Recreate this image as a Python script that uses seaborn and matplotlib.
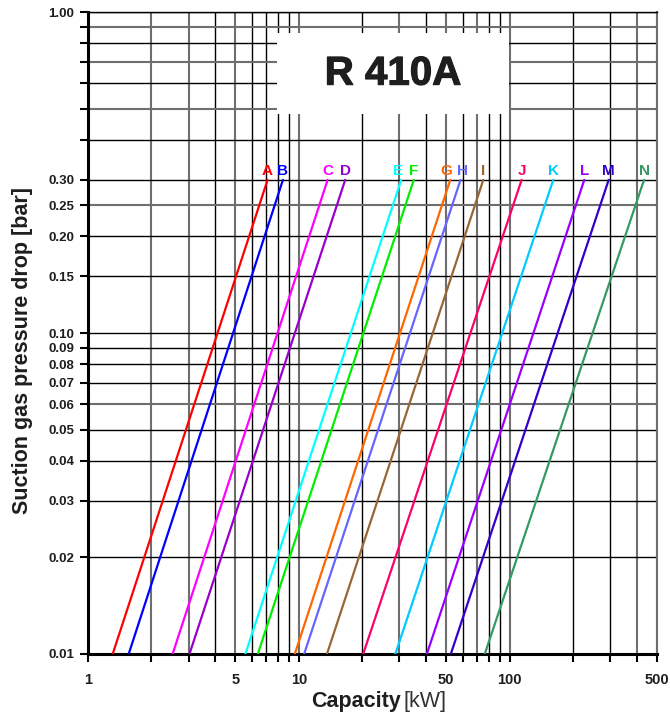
import matplotlib
matplotlib.use("Agg")
import matplotlib.pyplot as plt
from matplotlib.patches import Rectangle
import matplotlib.patheffects as pe
import seaborn as sns
import pandas as pd

# ---- data ----
series = ["A", "B", "C", "D", "E", "F", "G", "H", "I", "J", "K", "L", "M", "N"]
colors = ["#ff0000", "#0000ff", "#ff00ff", "#9900cc", "#00ffff", "#00ee00",
          "#ff6600", "#6666ff", "#996633", "#ff0066", "#00ccff", "#9900ff",
          "#3300cc", "#339966"]
dp_low = 0.01
dp_high = 0.30
cap_at_low = [1.31, 1.56, 2.52, 3.03, 5.58, 6.39, 9.57, 10.6, 13.6, 20.2, 28.7, 40.5, 52.6, 76.2]
cap_at_high = [7.11, 8.41, 13.7, 16.6, 30.6, 35.1, 52.3, 58.5, 75.0, 114, 161, 226, 295, 434]
# small horizontal nudges (in points) for the curve labels
label_nudge = [0, 0, 0, 0, -2, 0, -3, 1.5, 0, 0, 0, 0, 0, 0]

x_gridlines = [2, 3, 4, 5, 6, 7, 8, 9, 10, 20, 30, 40, 50, 60, 70, 80, 90, 100, 200, 300, 400, 500]
x_grey = [2, 3, 5, 10, 30, 50, 70, 100, 400, 500]
x_ticklabels = [1, 5, 10, 50, 100, 500]
y_gridlines = [0.02, 0.03, 0.04, 0.05, 0.06, 0.07, 0.08, 0.09, 0.10, 0.15, 0.20, 0.25, 0.30,
               0.4, 0.5, 0.6, 0.7, 0.8, 0.9, 1.0]
y_grey = [0.06, 0.25, 0.5, 0.7, 0.9]
y_ticklabels = [0.01, 0.02, 0.03, 0.04, 0.05, 0.06, 0.07, 0.08, 0.09, 0.10, 0.15, 0.20, 0.25, 0.30, 1.00]

rows = []
for s, c0, c1 in zip(series, cap_at_low, cap_at_high):
    rows.append({"series": s, "capacity": c0, "dp": dp_low})
    rows.append({"series": s, "capacity": c1, "dp": dp_high})
df = pd.DataFrame(rows)

sns.set_style("white")
plt.rcParams["font.family"] = ["Liberation Sans", "DejaVu Sans"]

fig = plt.figure(figsize=(6.7, 7.16), dpi=100)
ax = fig.add_axes([0.1313, 0.0866, 0.8493, 0.8966])
ax.set_xscale("log")
ax.set_yscale("log")
ax.set_xlim(1, 500)
ax.set_ylim(0.01, 1.0)

# grid
for xv in x_gridlines:
    if xv in x_grey:
        ax.axvline(xv, color="#6e6e6e", lw=1.5, zorder=1)
    else:
        ax.axvline(xv, color="black", lw=1.0, zorder=1)
for yv in y_gridlines:
    if yv in y_grey:
        ax.axhline(yv, color="#6e6e6e", lw=1.5, zorder=1)
    else:
        ax.axhline(yv, color="black", lw=1.0, zorder=1)

sns.lineplot(data=df, x="capacity", y="dp", hue="series", palette=colors,
             hue_order=series, lw=1.6, legend=False, ax=ax, zorder=3,
             estimator=None, sort=False)

for s, c1, col, dx in zip(series, cap_at_high, colors, label_nudge):
    ax.annotate(s, xy=(c1, dp_high), xytext=(dx, 1.5), textcoords="offset points",
                color=col, fontsize=11, fontweight="bold",
                ha="center", va="bottom", zorder=4)

# title box
ax.add_patch(Rectangle((0.332, 0.841), 0.408, 0.126, transform=ax.transAxes,
                       facecolor="white", edgecolor="none", zorder=5))
ax.text(0.536, 0.904, "R 410A", transform=ax.transAxes, fontsize=29,
        fontweight="bold", color="#1e1e1e", ha="center", va="center", zorder=6,
        path_effects=[pe.withStroke(linewidth=0.8, foreground="#1e1e1e")])

# ticks
ax.xaxis.set_major_locator(matplotlib.ticker.FixedLocator(x_ticklabels))
ax.xaxis.set_major_formatter(matplotlib.ticker.FixedFormatter([str(v) for v in x_ticklabels]))
ax.xaxis.set_minor_locator(matplotlib.ticker.FixedLocator([v for v in x_gridlines if v not in x_ticklabels]))
ax.xaxis.set_minor_formatter(matplotlib.ticker.NullFormatter())
ax.yaxis.set_major_locator(matplotlib.ticker.FixedLocator(y_ticklabels))
ax.yaxis.set_major_formatter(matplotlib.ticker.FixedFormatter([f"{v:.2f}" for v in y_ticklabels]))
ax.yaxis.set_minor_locator(matplotlib.ticker.FixedLocator([0.4, 0.5, 0.6, 0.7, 0.8, 0.9]))
ax.yaxis.set_minor_formatter(matplotlib.ticker.NullFormatter())
ax.tick_params(axis="both", which="both", direction="out", color="black", width=1.5,
               bottom=True, left=True, top=False, right=False)
ax.tick_params(axis="both", which="major", length=6)
ax.tick_params(axis="both", which="minor", length=6)
ax.tick_params(axis="x", which="major", labelsize=10.5, pad=8)
ax.tick_params(axis="y", which="major", labelsize=9.5, pad=4)
for lab in ax.get_xticklabels() + ax.get_yticklabels():
    lab.set_fontweight("bold")
    lab.set_color("#1e1e1e")

for side in ["left", "bottom"]:
    ax.spines[side].set_color("black")
    ax.spines[side].set_linewidth(2.2)
ax.spines["top"].set_color("black")
ax.spines["top"].set_linewidth(1.0)
ax.spines["right"].set_color("#6e6e6e")
ax.spines["right"].set_linewidth(1.5)

ax.set_xlabel("")
ax.set_ylabel("")
fig.text(0.018, 0.51, "Suction gas pressure drop [bar]", fontsize=15.5, fontweight="bold",
         color="#1e1e1e", rotation=90, ha="left", va="center")
fig.text(0.598, 0.006, "Capacity", fontsize=15.5, fontweight="bold", color="#1e1e1e",
         ha="right", va="bottom")
fig.text(0.602, 0.006, "[kW]", fontsize=15.5, color="#333333", ha="left", va="bottom")

fig.savefig("out.png", dpi=100)
